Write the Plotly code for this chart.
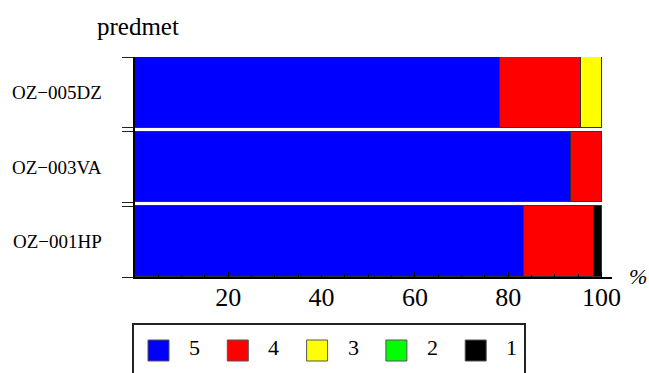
import plotly.graph_objects as go

# ---- data ----
subjects = ["OZ−001HP", "OZ−003VA", "OZ−005DZ"]
grades = ["5", "4", "3", "2", "1"]
grade_colors = ["#0000FF", "#FF0000", "#FFFF00", "#00FF00", "#000000"]
share_5 = [83.3, 93.5, 78.3]
share_4 = [15.0, 6.5, 17.4]
share_3 = [0.0, 0.0, 4.3]
share_2 = [0.0, 0.0, 0.0]
share_1 = [1.7, 0.0, 0.0]
x_ticks = [20, 40, 60, 80, 100]

series = [share_5, share_4, share_3, share_2, share_1]

# ---- geometry helpers ----
W, H = 649, 373
ML, MR, MT, MB = 135, 37, 57, 96
PW, PH = W - ML - MR, H - MT - MB


def px(x):
    return (x - ML) / PW


def py(y):
    return (H - MB - y) / PH


FONT = "Liberation Serif, Times New Roman, serif"
ypos = list(range(len(subjects)))

fig = go.Figure()
for name, vals, col in zip(grades, series, grade_colors):
    fig.add_trace(go.Bar(
        y=ypos, x=vals, orientation="h", name=name,
        marker=dict(color=col, line=dict(color="#333333", width=1)),
        width=0.95, showlegend=False,
    ))

edges = []
for i in ypos:
    edges += [i - 0.475, i + 0.475]

fig.update_layout(
    width=W, height=H,
    margin=dict(l=ML, r=MR, t=MT, b=MB, autoexpand=False),
    paper_bgcolor="white", plot_bgcolor="white",
    barmode="stack", bargap=0,
    font=dict(family=FONT, color="black"),
    showlegend=False,
    xaxis=dict(
        range=[0, 102.25], showgrid=False, zeroline=False,
        showline=True, linecolor="black", linewidth=1.5,
        tickvals=x_ticks, ticks="inside", ticklen=5, tickcolor="black",
        tickfont=dict(size=26, family=FONT), ticklabelstandoff=-4,
        minor=dict(dtick=5, tick0=0, ticks="inside", ticklen=3,
                   tickcolor="black", showgrid=False),
    ),
    yaxis=dict(
        range=[-0.475, 2.475], showgrid=False, zeroline=False,
        showline=True, linecolor="black", linewidth=1.5,
        tickvals=edges, ticks="outside", ticklen=11, tickcolor="#222222",
        showticklabels=False,
    ),
)

# legend (frame cut off by the bottom edge as in the reference)
fig.add_shape(type="rect", xref="paper", yref="paper",
              x0=px(133), x1=px(525), y0=py(324), y1=py(420),
              line=dict(color="#222222", width=2), fillcolor="rgba(0,0,0,0)")
LEG_X0, LEG_STEP, SW = 148, 79.3, 21
for k, (g, col) in enumerate(zip(grades, grade_colors)):
    x0 = LEG_X0 + k * LEG_STEP
    fig.add_shape(type="rect", xref="paper", yref="paper",
                  x0=px(x0), x1=px(x0 + SW), y0=py(340), y1=py(340 + SW),
                  line=dict(color="#555555", width=1), fillcolor=col)
    fig.add_annotation(text=g, xref="paper", yref="paper",
                       x=px(x0 + 39), y=py(347), xanchor="left", yanchor="middle",
                       showarrow=False, font=dict(size=22, family=FONT))

for s, i in zip(subjects, ypos):
    fig.add_annotation(text=s, xref="paper", yref="y", x=px(57), y=i,
                       xanchor="center", yanchor="middle", showarrow=False,
                       font=dict(size=19, family=FONT))

fig.add_annotation(text="predmet", xref="paper", yref="paper",
                   x=px(95), y=py(26), xanchor="left", yanchor="middle",
                   showarrow=False, font=dict(size=25, family=FONT))
fig.add_annotation(text="<i>%</i>", xref="paper", yref="paper",
                   x=px(638), y=py(276), xanchor="center", yanchor="middle",
                   showarrow=False, font=dict(size=22, family=FONT))

fig.write_html("out.html", config={"displayModeBar": False},
               post_script="document.body.style.margin='0px';")
